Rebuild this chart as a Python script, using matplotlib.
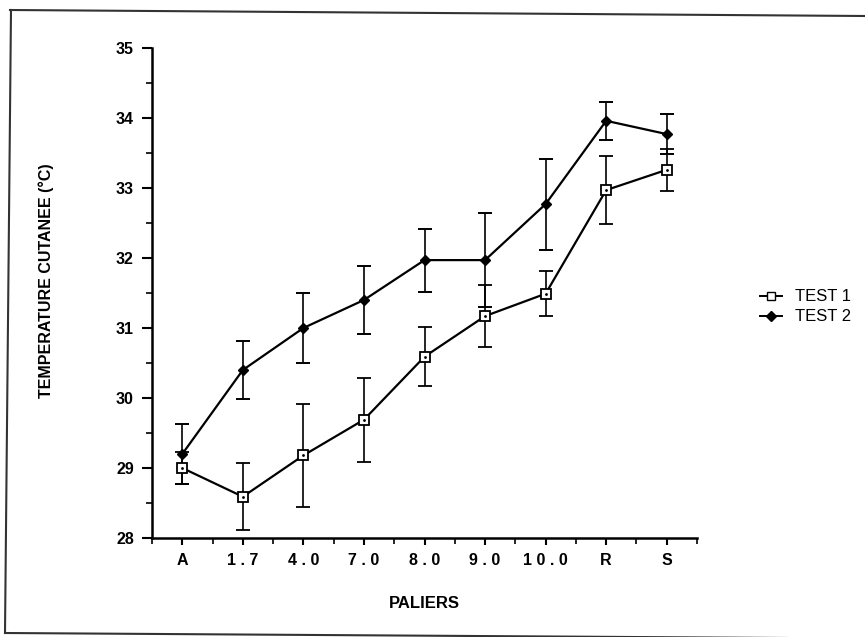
import matplotlib
matplotlib.use("Agg")
import matplotlib.pyplot as plt
from matplotlib.lines import Line2D
import numpy as np

categories = ["A", "1.7", "4.0", "7.0", "8.0", "9.0", "10.0", "R", "S"]
tick_labels = ["A", "1 . 7", "4 . 0", "7 . 0", "8 . 0", "9 . 0", "1 0 . 0", "R", "S"]
test1 = [29.0, 28.59, 29.18, 29.69, 30.59, 31.17, 31.49, 32.97, 33.26]
test1_err = [0.23, 0.48, 0.74, 0.60, 0.42, 0.44, 0.32, 0.49, 0.30]
test2 = [29.2, 30.4, 31.0, 31.4, 31.97, 31.97, 32.77, 33.96, 33.77]
test2_err = [0.43, 0.41, 0.50, 0.49, 0.45, 0.67, 0.65, 0.27, 0.29]

fig = plt.figure(figsize=(8.65, 6.37), dpi=100)
ax = fig.add_axes([152/865, 1-538/637, (697-152)/865, (538-48)/637])

x = np.arange(len(categories))
ax.errorbar(x, test2, yerr=test2_err, color="black", lw=1.6, marker="D", ms=5.5,
            mfc="black", mec="black", capsize=5, capthick=1.4, elinewidth=1.2,
            label="TEST 2", zorder=3)
ax.errorbar(x, test1, yerr=test1_err, color="black", lw=1.6, marker="s", ms=7,
            mfc="white", mec="black", mew=1.3, capsize=5, capthick=1.4, elinewidth=1.2,
            label="TEST 1", zorder=4)
ax.plot(x, test1, ls="none", marker=".", ms=2, color="black", zorder=5)

ax.set_xlim(-0.5, len(categories) - 0.5)
ax.set_ylim(28, 35)
ax.set_xticks(x)
ax.set_xticklabels(tick_labels, family="Liberation Sans", fontweight="bold", fontsize=11.5)
ax.set_xticks(np.arange(-0.5, len(categories), 1.0), minor=True)
ax.set_yticks(np.arange(28, 36, 1))
ax.set_yticklabels([str(v) for v in range(28, 36)], family="Liberation Sans",
                   fontweight="bold", fontsize=11.5)
ax.set_yticks(np.arange(28, 35.01, 0.5), minor=True)
ax.tick_params(axis="y", which="major", direction="out", length=7, width=1.5, pad=6)
ax.tick_params(axis="y", which="minor", direction="out", length=4, width=1.2)
ax.tick_params(axis="x", which="major", direction="out", length=5, width=1.5, pad=6)
ax.tick_params(axis="x", which="minor", direction="out", length=4, width=1.2)
for s in ["top", "right"]:
    ax.spines[s].set_visible(False)
for s in ["left", "bottom"]:
    ax.spines[s].set_linewidth(1.8)

ax.set_xlabel("PALIERS", family="Liberation Sans", fontweight="bold", fontsize=12, labelpad=20)
ax.set_ylabel("TEMPERATURE CUTANEE (°C)", family="Liberation Sans", fontweight="bold",
              fontsize=11.5)
ax.yaxis.set_label_coords(-0.18, 0.526)

handles = [
    Line2D([], [], color="black", lw=1.4, marker="s", ms=5.5, mfc="white", mec="black"),
    Line2D([], [], color="black", lw=1.4, marker="D", ms=5, mfc="black", mec="black"),
]
fig.legend(handles, ["TEST 1", "TEST 2"], loc="center left",
           bbox_to_anchor=(760/865, 1-307/637), frameon=False, handlelength=1.3,
           handletextpad=0.8, labelspacing=0.3, borderpad=0, borderaxespad=0,
           prop={"family": "Liberation Sans", "size": 12})

# scanned page frame
fig.add_artist(Line2D([10/865, 1.0], [1-10/637, 1-16/637], color="#333333", lw=1.5))
fig.add_artist(Line2D([11/865, 5/865], [1-10/637, 1-633/637], color="#333333", lw=1.5))
fig.add_artist(Line2D([5/865, 1.0], [1-633/637, 1-638.5/637], color="#333333", lw=1.5))

fig.savefig("out.png", dpi=100)
